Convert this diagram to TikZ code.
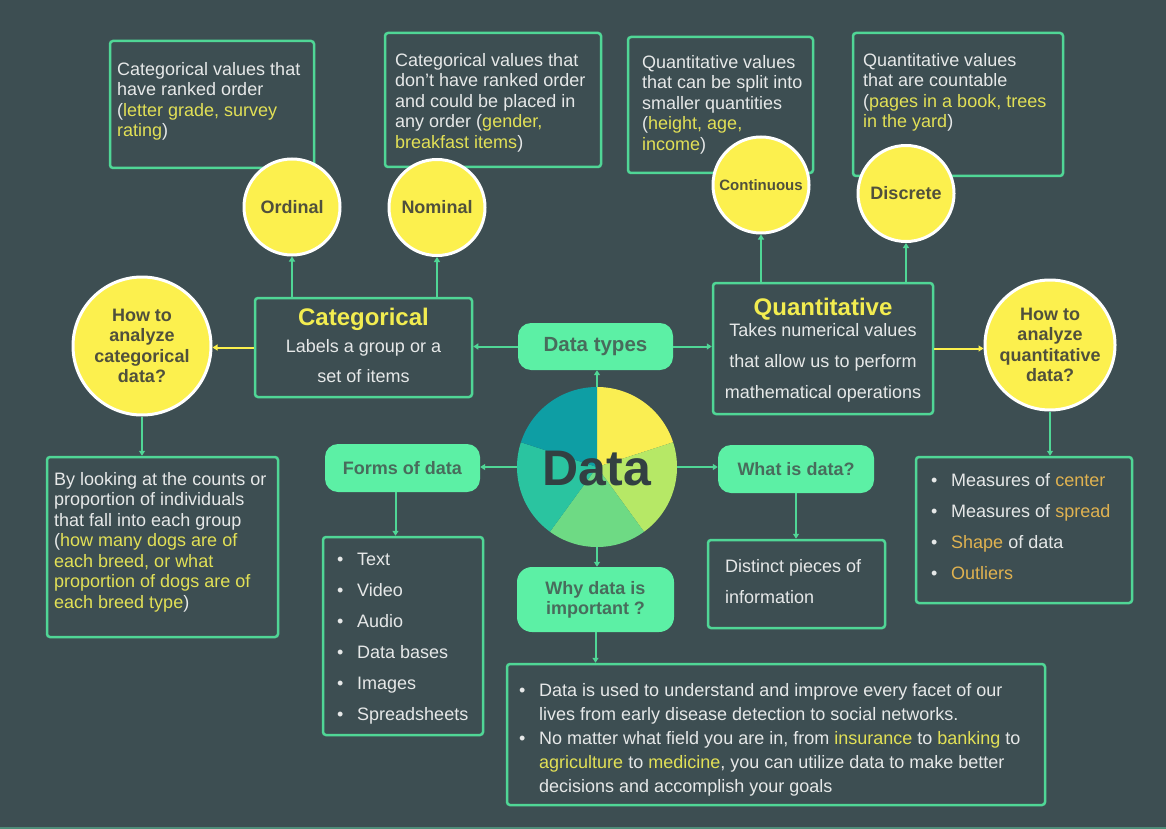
\documentclass[tikz,border=0pt]{standalone}
\usepackage{fontspec}
\setmainfont{Liberation Sans}
\usetikzlibrary{arrows.meta}
\definecolor{bg}{RGB}{61,78,82}
\definecolor{edge}{RGB}{80,214,150}
\definecolor{mint}{RGB}{92,240,165}
\definecolor{sun}{RGB}{252,240,78}
\definecolor{hly}{RGB}{226,224,86}
\definecolor{hlo}{RGB}{224,178,80}
\definecolor{ink}{RGB}{230,232,232}
\definecolor{olive}{RGB}{80,80,60}
\definecolor{tagink}{RGB}{72,108,92}
\definecolor{titlecol}{RGB}{242,236,80}
\definecolor{dataink}{RGB}{50,64,66}
\definecolor{pieA}{RGB}{250,238,82}
\definecolor{pieB}{RGB}{182,232,102}
\definecolor{pieC}{RGB}{110,218,132}
\definecolor{pieD}{RGB}{42,196,160}
\definecolor{pieE}{RGB}{14,158,164}
\definecolor{strip}{RGB}{78,140,120}
\newcommand{\yl}[1]{\textcolor{hly}{#1}}
\newcommand{\og}[1]{\textcolor{hlo}{#1}}
\newcommand{\itm}{\makebox[20pt][l]{\textbullet}}
\newcommand{\gap}{\hspace*{20pt}}

\begin{document}
\begin{tikzpicture}[x=1pt,y=-1pt,
    descbox/.style={draw=edge, line width=2.5pt, rounded corners=3pt, fill=bg, inner sep=0pt},
    tagbox/.style={fill=mint, rounded corners=13pt, inner sep=0pt, align=center, text=tagink,
        font=\bfseries\fontsize{18}{20}\selectfont},
    bubble/.style={circle, fill=sun, draw=white, line width=3pt, inner sep=-6pt, align=center,
        text=olive, font=\bfseries\fontsize{18}{20.5}\selectfont},
    body/.style={anchor=north west, inner sep=0pt, align=left, text=ink,
        font=\fontsize{18}{20.5}\selectfont},
    link/.style={draw=edge, line width=2pt, -{Triangle[length=5pt,width=6pt]}},
    ylink/.style={draw=sun, line width=2pt, -{Triangle[length=5pt,width=6pt]}}]
\fill[bg] (0,0) rectangle (1166,829);
\useasboundingbox (0,0) rectangle (1166,829);
\fill[strip] (0,826.5) rectangle (1166,829);
% boxes
\node[descbox, minimum width=204pt, minimum height=127pt] (ordbox) at (212,104.5) {};
\node[descbox, minimum width=216pt, minimum height=134pt] (nombox) at (493,100) {};
\node[descbox, minimum width=185pt, minimum height=136pt] (conbox) at (720.5,105) {};
\node[descbox, minimum width=210pt, minimum height=143pt] (disbox) at (958,104.5) {};
\node[descbox, minimum width=217pt, minimum height=99pt] (catbox) at (363.5,347.5) {};
\node[descbox, minimum width=220pt, minimum height=131pt] (quabox) at (823,348.5) {};
\node[descbox, minimum width=231pt, minimum height=180pt] (catlist) at (162.5,547) {};
\node[descbox, minimum width=160pt, minimum height=198pt] (formlist) at (403,636) {};
\node[descbox, minimum width=177pt, minimum height=88pt] (distbox) at (796.5,584) {};
\node[descbox, minimum width=216pt, minimum height=146pt] (qualist) at (1024,530) {};
\node[descbox, minimum width=538pt, minimum height=141pt] (whybox) at (776,734.5) {};
% circles
\node[bubble, minimum size=96pt] (ordcirc) at (292,207) {Ordinal};
\node[bubble, minimum size=96pt] (nomcirc) at (437,207.5) {Nominal};
\node[bubble, minimum size=96pt, font=\bfseries\fontsize{15}{18}\selectfont] (concirc) at (761,185) {Continuous};
\node[bubble, minimum size=96pt] (discirc) at (906,193.5) {Discrete};
\node[bubble, minimum size=138pt] (howcat) at (142,346) {How to\\analyze\\categorical\\data?};
\node[bubble, minimum size=130pt] (howqua) at (1050,345) {How to\\analyze\\quantitative\\data?};
% tags
\node[tagbox, minimum width=155pt, minimum height=47pt, font=\bfseries\fontsize{20.5}{22}\selectfont] (types) at (595.5,346.5) {Data types};
\node[tagbox, minimum width=155pt, minimum height=48pt] (forms) at (402.5,468) {Forms of data};
\node[tagbox, minimum width=156pt, minimum height=48pt] (what) at (796,469) {What is data?};
\node[tagbox, minimum width=157pt, minimum height=65pt, rounded corners=15pt] (why) at (595.5,599.5) {Why data is\\important ?};
% pie
\node[circle, minimum size=160pt, inner sep=0pt] (pie) at (597,467) {};
\foreach \col [count=\i from 0] in {pieA,pieB,pieC,pieD,pieE}
    \fill[\col] (pie.center) -- ++({90-72*\i}:80pt) arc[start angle={90-72*\i}, delta angle=-72, radius=80pt] -- cycle;
\node[font=\bfseries\fontsize{50}{50}\selectfont, text=dataink] (datatxt) at (597,469) {Data};
% texts
\node[body] (ordtxt) at (117,62) {Categorical values that\\have ranked order\\(\yl{letter grade, survey}\\\yl{rating})};
\node[body] (nomtxt) at (395,53) {Categorical values that\\don't have ranked order\\and could be placed in\\any order (\yl{gender,}\\\yl{breakfast items})};
\node[body] (contxt) at (642,55) {Quantitative values\\that can be split into\\smaller quantities\\(\yl{height, age,}\\\yl{income})};
\node[body] (distxt) at (863,53) {Quantitative values\\that are countable\\(\yl{pages in a book, trees}\\\yl{in the yard})};
\node[anchor=base, inner sep=0pt, text=titlecol, font=\bfseries\fontsize{24}{24}\selectfont] (cattitle) at (363.5,325) {Categorical};
\node[body, anchor=north, align=center, font=\fontsize{18}{30}\selectfont] (cattxt) at (363.5,339) {Labels a group or a\\set of items};
\node[anchor=base, inner sep=0pt, text=titlecol, font=\bfseries\fontsize{24}{24}\selectfont] (quatitle) at (823,315) {Quantitative};
\node[body, anchor=north, align=center, font=\fontsize{18}{31}\selectfont] (quatxt) at (823,323) {Takes numerical values\\that allow us to perform\\mathematical operations};
\node[body] (cattip) at (54,472) {By looking at the counts or\\proportion of individuals\\that fall into each group\\(\yl{how many dogs are of}\\\yl{each breed, or what}\\\yl{proportion of dogs are of}\\\yl{each breed type})};
\node[body, font=\fontsize{18}{31}\selectfont] (formtxt) at (337,553) {\itm Text\\\itm Video\\\itm Audio\\\itm Data bases\\\itm Images\\\itm Spreadsheets};
\node[body, font=\fontsize{18}{31}\selectfont] (disttxt) at (725,559) {Distinct pieces of\\information};
\node[body, font=\fontsize{18}{31}\selectfont] (quatip) at (931,473) {\itm Measures of \og{center}\\\itm Measures of \og{spread}\\\itm \og{Shape} of data\\\itm \og{Outliers}};
\node[body, font=\fontsize{18}{24}\selectfont] (whytxt) at (519,683) {\itm Data is used to understand and improve every facet of our\\\gap lives from early disease detection to social networks.\\\itm No matter what field you are in, from \yl{insurance} to \yl{banking} to\\\gap\yl{agriculture} to \yl{medicine}, you can utilize data to make better\\\gap decisions and accomplish your goals};
% connectors
\draw[link] (ordcirc |- catbox.north) -- (ordcirc.south);
\draw[link] (nomcirc |- catbox.north) -- (nomcirc.south);
\draw[link] (concirc |- quabox.north) -- (concirc.south);
\draw[link] (discirc |- quabox.north) -- (discirc.south);
\draw[ylink] (catbox.west) -- (catbox.west -| howcat.east);
\draw[ylink] (quabox.east) -- (quabox.east -| howqua.west);
\draw[link] (howcat.south) -- (howcat.south |- catlist.north);
\draw[link] (howqua.south) -- (howqua.south |- qualist.north);
\draw[link] (types.west) -- (types.west -| catbox.east);
\draw[link] (types.east) -- (types.east -| quabox.west);
\draw[link] (pie.north) -- (pie.north |- types.south);
\draw[link] (pie.west) -- (pie.west -| forms.east);
\draw[link] (pie.east) -- (pie.east -| what.west);
\draw[link] (pie.south) -- (pie.south |- why.north);
\draw[link] ([xshift=-7pt]forms.south) -- ([xshift=-7pt]forms.south |- formlist.north);
\draw[link] (what.south) -- (what.south |- distbox.north);
\draw[link] (why.south) -- (why.south |- whybox.north);
\end{tikzpicture}
\end{document}
